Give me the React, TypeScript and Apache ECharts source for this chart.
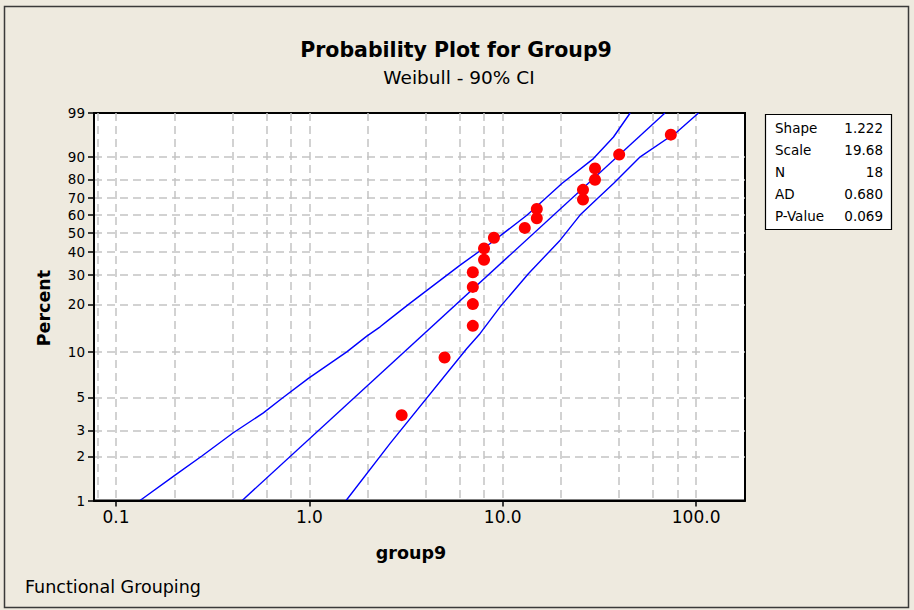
import React, { useEffect, useRef } from "react";
import * as echarts from "echarts";

// ---- data ----
const pctTicks = [1, 2, 3, 5, 10, 20, 30, 40, 50, 60, 70, 80, 90, 99];
const xLabelTicks = [0.1, 1, 10, 100];
const xGridValues = [0.08, 0.1, 0.2, 0.4, 0.6, 0.8, 1, 2, 4, 6, 8, 10, 20, 40, 60, 80, 100];

const dataX = [3, 5, 7, 7, 7, 7, 8, 8, 9, 13, 15, 15, 26, 26, 30, 30, 40, 74];
const dataPct = [3.8, 9.2, 14.7, 20.1, 25.5, 31.0, 36.4, 41.8, 47.3, 52.7, 58.2, 63.6, 69.0, 74.5, 79.9, 85.3, 90.8, 96.2];

const fitX = [0.449, 69.0];
const fitPct = [1, 99];

const upperX = [0.133, 0.202, 0.278, 0.404, 0.578, 0.72, 0.988, 1.561, 1.981, 2.322, 2.563, 3.319, 6.02, 8.61, 13.33, 20.22, 29.45, 37.39, 45.6];
const upperPct = [1, 1.49, 2.01, 2.89, 3.94, 4.92, 6.7, 10.01, 12.65, 14.5, 15.98, 20.36, 33.98, 44.27, 59.94, 77.89, 89.35, 95.72, 99];

const lowerX = [1.548, 2.615, 6.52, 7.64, 9.69, 13.6, 19.81, 25.1, 30.5, 37.5, 51.4, 79.6, 102.9];
const lowerPct = [1, 2.45, 10.53, 13.16, 19.33, 30.51, 46.01, 60, 69, 78, 90, 96.7, 99];

const statNames = ["Shape", "Scale", "N", "AD", "P-Value"];
const statValues = ["1.222", "19.68", "18", "0.680", "0.069"];

const titleText = "Probability Plot for Group9";
const subtitleText = "Weibull - 90% CI";
const xName = "group9";
const yName = "Percent";
const footer = "Functional Grouping";

// Weibull probability-paper transform
const wb = (p: number) => Math.log(-Math.log(1 - p / 100));

const FONT = '"DejaVu Sans", sans-serif';
const X_MIN = 0.0769;
const X_MAX = 179;

export default function App() {
  const ref = useRef<HTMLDivElement>(null);

  useEffect(() => {
    if (!ref.current) return;
    const chart = echarts.init(ref.current, null, { renderer: "svg" });
    const yTickVals = pctTicks.map(wb);
    const pair = (xs: number[], ps: number[]) => xs.map((x, i) => [x, wb(ps[i])]);
    const gridLine = { type: [8, 5] as any, color: "#c4c4c4", width: 1.5 };

    const statsY0 = 128;
    const statsGraphics: any[] = [];
    statNames.forEach((n, i) => {
      statsGraphics.push({
        type: "text",
        x: 775,
        y: statsY0 + i * 22,
        style: { text: n, font: `13.5px ${FONT}`, fill: "#000", align: "left", verticalAlign: "middle" },
      });
      statsGraphics.push({
        type: "text",
        x: 883,
        y: statsY0 + i * 22,
        style: { text: statValues[i], font: `13.5px ${FONT}`, fill: "#000", align: "right", verticalAlign: "middle" },
      });
    });

    const blue = { color: "#0000FF", width: 1.4 };

    chart.setOption({
      animation: false,
      backgroundColor: "#EEEADF",
      grid: {
        left: 94,
        right: 169,
        top: 113,
        bottom: 109.5,
        show: true,
        backgroundColor: "#ffffff",
        borderColor: "#000",
        borderWidth: 2,
      },
      xAxis: [
        {
          type: "log",
          logBase: 10,
          min: X_MIN,
          max: X_MAX,
          position: "bottom",
          axisLine: { show: true, onZero: false, lineStyle: { color: "#000", width: 2 } },
          axisTick: { show: true, inside: false, length: 6, lineStyle: { color: "#000", width: 1.5 }, customValues: xLabelTicks },
          axisLabel: {
            customValues: xLabelTicks,
            formatter: (v: number) => Number(v).toFixed(1),
            fontSize: 17,
            fontFamily: FONT,
            color: "#000",
            margin: 8,
          },
          splitLine: { show: false },
          z: 5,
        },
        {
          type: "log",
          logBase: 10,
          min: X_MIN,
          max: X_MAX,
          position: "bottom",
          axisLine: { show: false, onZero: false },
          axisTick: { show: false, customValues: xGridValues },
          axisLabel: { show: false },
          splitLine: { show: true, lineStyle: gridLine },
        },
      ],
      yAxis: {
        type: "value",
        min: wb(1),
        max: wb(99),
        axisLine: { show: true, onZero: false, lineStyle: { color: "#000", width: 2 } },
        axisTick: { show: true, length: 6, lineStyle: { color: "#000", width: 1.5 }, customValues: yTickVals },
        axisLabel: {
          customValues: yTickVals,
          formatter: (v: number) => {
            let best = 0;
            yTickVals.forEach((t, i) => {
              if (Math.abs(t - v) < Math.abs(yTickVals[best] - v)) best = i;
            });
            return String(pctTicks[best]);
          },
          fontSize: 13.5,
          fontFamily: FONT,
          color: "#000",
          margin: 9,
        },
        splitLine: { show: true, showMinLine: false, showMaxLine: false, lineStyle: gridLine },
      },
      series: [
        { type: "line", data: pair(upperX, upperPct), symbol: "none", lineStyle: blue, xAxisIndex: 0, z: 3 },
        { type: "line", data: pair(fitX, fitPct), symbol: "none", lineStyle: blue, xAxisIndex: 0, z: 3 },
        { type: "line", data: pair(lowerX, lowerPct), symbol: "none", lineStyle: blue, xAxisIndex: 0, z: 3 },
        {
          type: "scatter",
          data: pair(dataX, dataPct),
          symbol: "circle",
          symbolSize: 12,
          itemStyle: { color: "#FF0000", opacity: 1 },
          xAxisIndex: 0,
          z: 4,
        },
      ],
      graphic: [
        {
          type: "rect",
          shape: { x: 4.5, y: 6.5, width: 904, height: 601 },
          style: { fill: "none", stroke: "#3a3a3a", lineWidth: 1.5 },
          silent: true,
        },
        {
          type: "text",
          x: 456,
          y: 50,
          style: { text: titleText, font: `bold 20.5px ${FONT}`, fill: "#000", align: "center", verticalAlign: "middle" },
        },
        {
          type: "text",
          x: 459,
          y: 77,
          style: { text: subtitleText, font: `18.5px ${FONT}`, fill: "#000", align: "center", verticalAlign: "middle" },
        },
        {
          type: "text",
          x: 44,
          y: 308,
          rotation: Math.PI / 2,
          style: { text: yName, font: `bold 17.5px ${FONT}`, fill: "#000", align: "center", verticalAlign: "middle" },
        },
        {
          type: "text",
          x: 411,
          y: 553,
          style: { text: xName, font: `bold 17.5px ${FONT}`, fill: "#000", align: "center", verticalAlign: "middle" },
        },
        {
          type: "text",
          x: 25,
          y: 587,
          style: { text: footer, font: `17.5px ${FONT}`, fill: "#000", align: "left", verticalAlign: "middle" },
        },
        {
          type: "rect",
          shape: { x: 765.5, y: 114.5, width: 126, height: 115 },
          style: { fill: "#ffffff", stroke: "#000", lineWidth: 1.2 },
        },
        ...statsGraphics,
      ],
    });
    return () => chart.dispose();
  }, []);

  return (
    <div
      ref={ref}
      style={{ position: "fixed", left: 0, top: 0, width: 914, height: 610 }}
    />
  );
}
